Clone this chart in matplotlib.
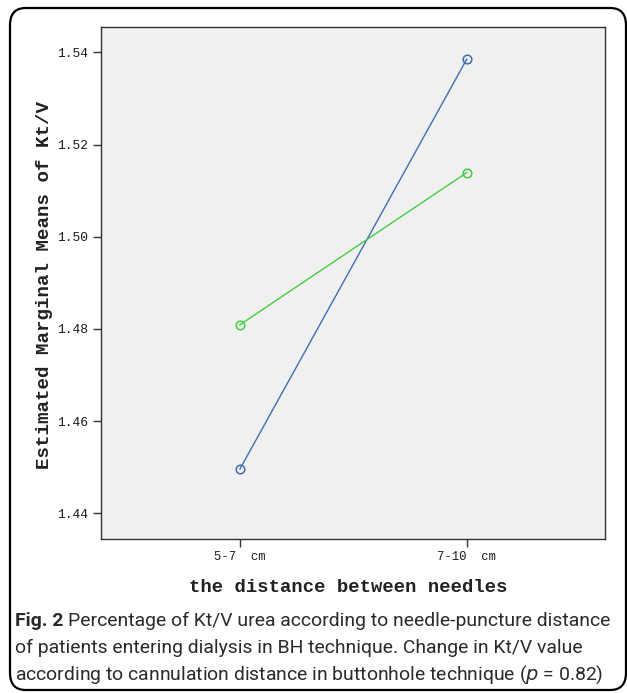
import matplotlib
matplotlib.use("Agg")
import matplotlib.pyplot as plt
from matplotlib.patches import FancyBboxPatch

categories = ["5-7  cm", "7-10  cm"]
series_blue = [1.4496, 1.5385]
series_green = [1.4809, 1.5139]
yticks = [1.44, 1.46, 1.48, 1.50, 1.52, 1.54]
ytick_labels = ["1.44", "1.46", "1.48", "1.50", "1.52", "1.54"]

W, H = 627, 693
fig = plt.figure(figsize=(W / 100, H / 100), dpi=100)
fig.patch.set_facecolor("white")

# outer rounded frame
frame = FancyBboxPatch((10 / W, 1 - 690 / H), (626 - 10) / W, (690 - 8) / H,
                       boxstyle="round,pad=0,rounding_size=0.025",
                       transform=fig.transFigure, facecolor="none",
                       edgecolor="black", linewidth=1.6, zorder=0)
fig.patches.append(frame)

ax = fig.add_axes([101 / W, 1 - 539 / H, (605 - 101) / W, (539 - 27) / H])
ax.set_facecolor("#f0f0f0")
x = list(range(len(categories)))
ax.plot(x, series_blue, color="#3f6fb0", linewidth=1.0, marker="o",
        markersize=6.2, markerfacecolor="none", markeredgecolor="#3f6fb0",
        markeredgewidth=1.1)
ax.plot(x, series_green, color="#45cc45", linewidth=1.0, marker="o",
        markersize=6.2, markerfacecolor="none", markeredgecolor="#45cc45",
        markeredgewidth=1.1)
ax.set_xlim(-0.613, 1.61)
ax.set_ylim(1.4344, 1.5455)
ax.set_xticks(x)
ax.set_xticklabels(categories, family="Liberation Mono", fontsize=8.8)
ax.set_yticks(yticks)
ax.set_yticklabels(ytick_labels, family="Liberation Mono", fontsize=9.3)
for s in ax.spines.values():
    s.set_color("#333333")
    s.set_linewidth(1.0)
ax.tick_params(axis="both", direction="out", length=6, width=1, color="#333333",
               pad=3, labelcolor="#1a1a1a")

fig.text(45 / W, 1 - 285 / H, "Estimated Marginal Means of Kt/V",
         family="Liberation Mono", fontweight="bold", fontsize=13.8,
         rotation=90, ha="center", va="center", color="#222222")
fig.text(348 / W, 1 - 587 / H, "the distance between needles",
         family="Liberation Mono", fontweight="bold", fontsize=13.6,
         ha="center", va="center", color="#222222")

# caption
cap_font = "Roboto"
cap_color = "#2a2a2a"
lines = ["Percentage of Kt/V urea according to needle-puncture distance",
         "of patients entering dialysis in BH technique. Change in Kt/V value",
         "according to cannulation distance in buttonhole technique ($\\it{p}$ = 0.82)"]
baselines = [626, 653, 680]
x0 = 15
target_right = 613
fs = 15
renderer = fig.canvas.get_renderer()
t_bold = fig.text(x0 / W, 1 - baselines[0] / H, "Fig. 2 ", fontsize=fs,
                  family=cap_font, fontweight="bold", va="baseline", ha="left",
                  color=cap_color)
t_rest = fig.text(0, 1 - baselines[0] / H, lines[0], fontsize=fs,
                  family=cap_font, va="baseline", ha="left", color=cap_color)
wb = t_bold.get_window_extent(renderer).width
wr = t_rest.get_window_extent(renderer).width
scale = (target_right - x0) / (wb + wr)
fs2 = fs * scale
t_bold.set_fontsize(fs2)
t_rest.set_fontsize(fs2)
wb = t_bold.get_window_extent(renderer).width
t_rest.set_x((x0 + wb) / W)
for ln, b in zip(lines[1:], baselines[1:]):
    fig.text(x0 / W, 1 - b / H, ln, fontsize=fs2, family=cap_font,
             va="baseline", ha="left", color=cap_color)

fig.savefig("out.png", dpi=100, facecolor="white")
